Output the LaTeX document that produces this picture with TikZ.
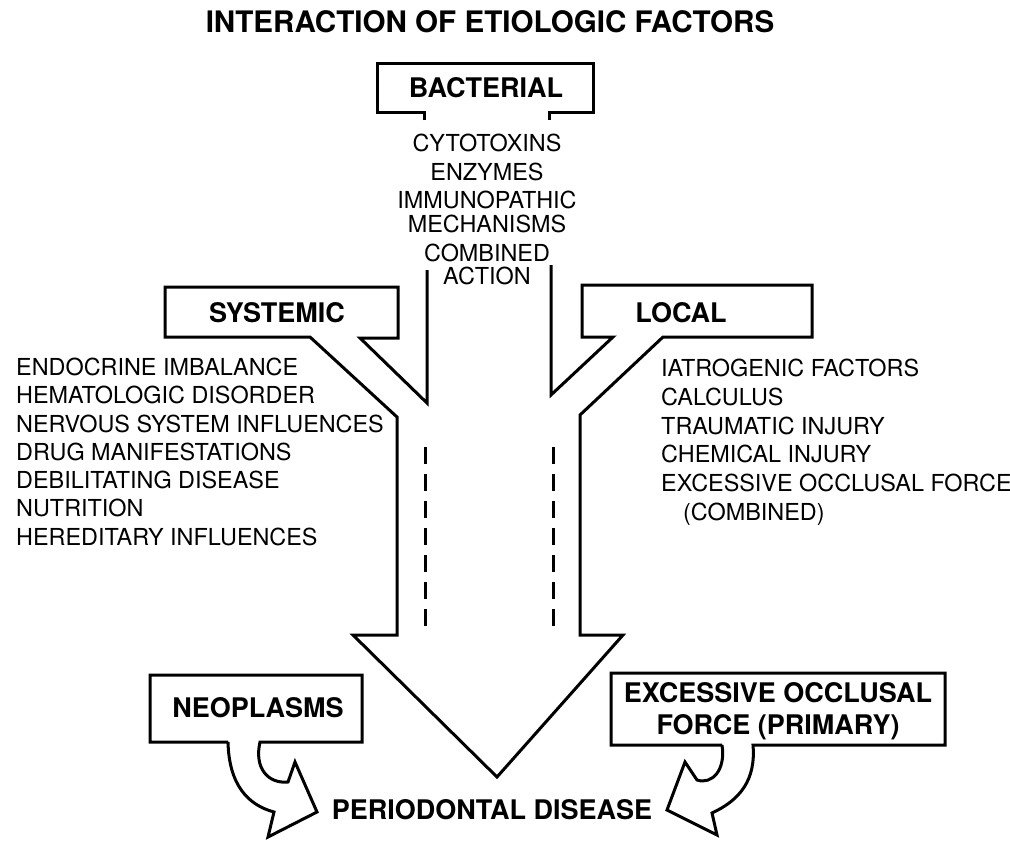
\documentclass[tikz,border=0pt]{standalone}
\usepackage{fontspec}
\setmainfont{TeX Gyre Heros}
\begin{document}
\begin{tikzpicture}[x=1pt,y=-1pt,
  outl/.style={line width=3pt, line join=miter},
  reg/.style={font=\fontsize{23.4}{28}\selectfont, inner sep=0pt},
  bld/.style={font=\fontsize{27}{32}\selectfont\bfseries, inner sep=0pt},
  ttl/.style={font=\fontsize{29.6}{34}\selectfont\bfseries, inner sep=0pt},
  dsh/.style={line width=3pt, dash pattern=on 17pt off 10pt}]
\fill[white] (0,0) rectangle (1010,841);
\useasboundingbox (0,0) rectangle (1010,841);

% title
\node[ttl, anchor=base] (title) at (490,32.6) {INTERACTION OF ETIOLOGIC FACTORS};

% bacterial box
\draw[outl] (424,120) -- (424,112) -- (377,112) -- (377,63) -- (593,63) -- (593,112) -- (549,112) -- (549,120);
\node[bld, anchor=base] (bact) at (486,97.7) {BACTERIAL};
\node[reg, anchor=base] (b1) at (487,151.4) {CYTOTOXINS};
\node[reg, anchor=base] (b2) at (487,180.4) {ENZYMES};
\node[reg, anchor=base] (b3) at (487,208.4) {IMMUNOPATHIC};
\node[reg, anchor=base] (b4) at (487,232.4) {MECHANISMS};
\node[reg, anchor=base] (b5) at (487,261.4) {COMBINED};
\node[reg, anchor=base] (b6) at (487,284.4) {ACTION};

% main outline: stems, side boxes, big arrow
\draw[outl] (427,270) -- (427,403) -- (360,338) -- (398,338) -- (398,287) -- (165,287)
  -- (165,337) -- (310,337) -- (397,417) -- (397,635) -- (353,635) -- (497,777)
  -- (623,635) -- (580,635) -- (580,415) -- (663,337) -- (812,337) -- (812,285)
  -- (582,285) -- (582,337) -- (613,337) -- (551,395) -- (551,265);

\draw[dsh] (425,447) -- (425,632);
\draw[dsh] (553,447) -- (553,632);

\node[bld, anchor=base] (sys) at (277,322.7) {SYSTEMIC};
\node[bld, anchor=base] (loc) at (681,322.7) {LOCAL};

\foreach \t [count=\i] in {ENDOCRINE IMBALANCE, HEMATOLOGIC DISORDER, NERVOUS SYSTEM INFLUENCES,
  DRUG MANIFESTATIONS, DEBILITATING DISEASE, NUTRITION, HEREDITARY INFLUENCES}
  \node[reg, anchor=base west] (s\i) at (16,{375.4+28.3*(\i-1)}) {\t};

\foreach \t [count=\i] in {IATROGENIC FACTORS, CALCULUS, TRAUMATIC INJURY,
  CHEMICAL INJURY, EXCESSIVE OCCLUSAL FORCE}
  \node[reg, anchor=base west] (l\i) at (661,{376.4+28.8*(\i-1)}) {\t};
\node[reg, anchor=base west] (l6) at (683,520.4) {(COMBINED)};

% neoplasms box with curved arrow
\draw[outl] (228,742) -- (150,742) -- (150,675) -- (362,675) -- (362,742) -- (260,742)
  .. controls (254,768) and (268,784) .. (288,782) -- (295,762) -- (317,812) -- (268,837)
  -- (274,812) .. controls (248,805) and (229,785) .. (228,742);
\node[bld, anchor=base] (neo) at (258,717.7) {NEOPLASMS};

% excessive occlusal force box with curved arrow
\draw[outl] (722,745) -- (611,745) -- (611,673) -- (945,673) -- (945,745) -- (753,745)
  .. controls (756,780) and (740,800) .. (712,813) -- (717,835) -- (667,810) -- (685,762)
  -- (697,780) .. controls (712,785) and (726,770) .. (722,745);
\node[bld, anchor=base] (eof1) at (778,702.7) {EXCESSIVE OCCLUSAL};
\node[bld, anchor=base] (eof2) at (778,734.7) {FORCE (PRIMARY)};

\node[bld, anchor=base] (pd) at (492,819.7) {PERIODONTAL DISEASE};
\end{tikzpicture}
\end{document}
